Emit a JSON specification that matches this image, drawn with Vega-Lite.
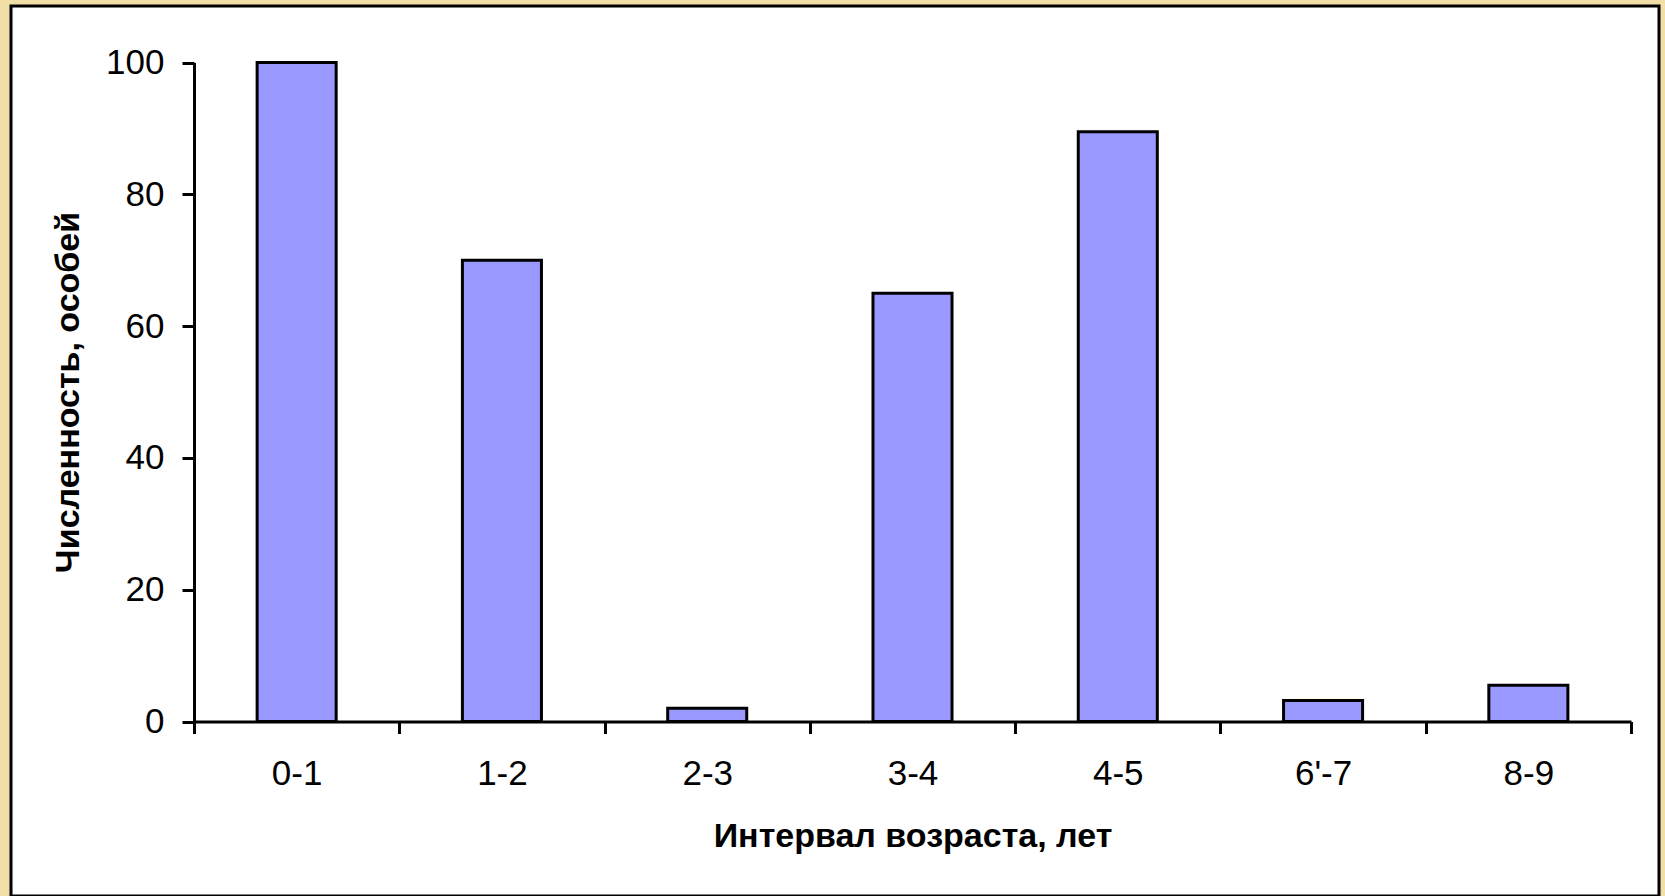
{
  "$schema": "https://vega.github.io/schema/vega-lite/v6.json",
  "width": 1648,
  "height": 890,
  "autosize": {"type": "none"},
  "padding": {"left": 11, "top": 6, "right": 6, "bottom": 0},
  "background": "#f2dfa7",
  "config": {
    "view": {"fill": "white", "stroke": "black", "strokeWidth": 3},
    "font": "Liberation Sans"
  },
  "data": {
    "values": [
      {"interval": "0-1", "count": 100},
      {"interval": "1-2", "count": 70},
      {"interval": "2-3", "count": 2},
      {"interval": "3-4", "count": 65},
      {"interval": "4-5", "count": 89.5},
      {"interval": "6'-7", "count": 3.2},
      {"interval": "8-9", "count": 5.5}
    ]
  },
  "mark": {"type": "bar", "fill": "#9999ff", "stroke": "black", "strokeWidth": 3, "width": {"band": 0.385}},
  "encoding": {
    "x": {
      "field": "interval",
      "type": "nominal",
      "sort": null,
      "scale": {"paddingInner": 0, "paddingOuter": 0, "range": [183, 1620]},
      "axis": {
        "offset": -174.5,
        "tickBand": "extent",
        "labelAngle": 0,
        "tickSize": 12,
        "tickWidth": 3,
        "tickColor": "black",
        "domainWidth": 3,
        "domainColor": "black",
        "labelFontSize": 35,
        "labelColor": "black",
        "labelPadding": 23,
        "title": "Интервал возраста, лет",
        "titleFontSize": 34,
        "titleFontWeight": "bold",
        "titleColor": "black",
        "titlePadding": 28,
        "grid": false
      }
    },
    "y": {
      "field": "count",
      "type": "quantitative",
      "scale": {"domain": [0, 100], "range": [715.5, 56.5], "nice": false},
      "axis": {
        "offset": -183,
        "values": [0, 20, 40, 60, 80, 100],
        "tickSize": 12,
        "tickWidth": 3,
        "tickColor": "black",
        "domainWidth": 3,
        "domainColor": "black",
        "labelFontSize": 35,
        "labelColor": "black",
        "labelPadding": 18,
        "title": "Численность, особей",
        "titleFontSize": 34,
        "titleFontWeight": "bold",
        "titleColor": "black",
        "titlePadding": 20,
        "grid": false
      }
    }
  }
}
